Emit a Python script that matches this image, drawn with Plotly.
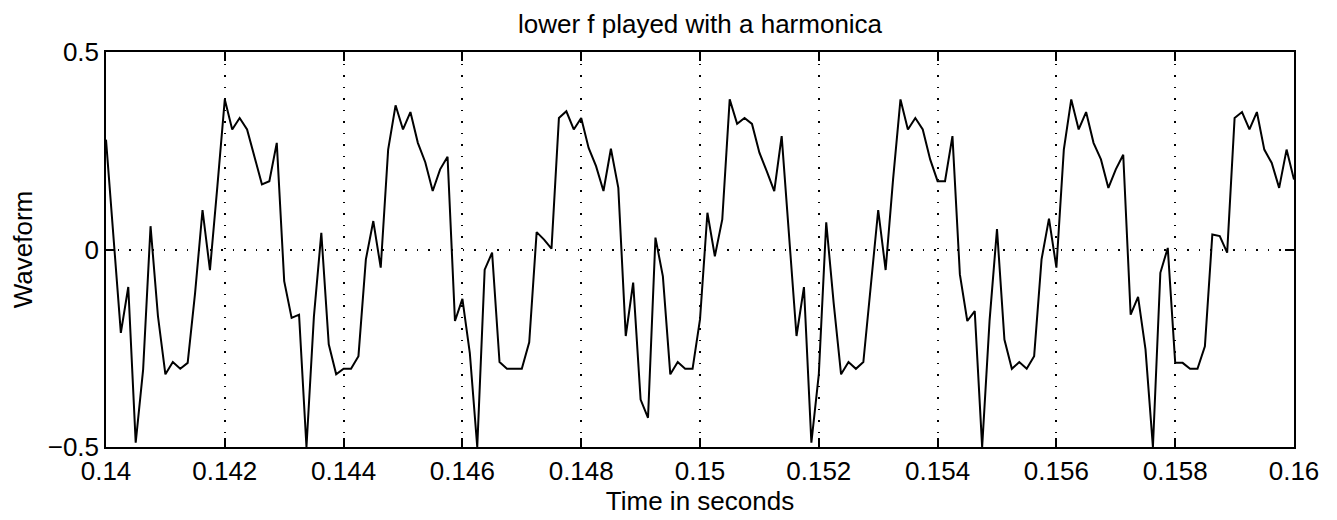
import plotly.graph_objects as go

t_start = 0.14
sample_period = 0.000125  # 8 kHz sampling

waveform = [
    0.278, 0.034, -0.211, -0.095, -0.489, -0.304, 0.059, -0.169, -0.316, -0.285,
    -0.302, -0.287, -0.11, 0.10, -0.052, 0.16, 0.38, 0.304, 0.333, 0.304,
    0.236, 0.165, 0.173, 0.27, -0.08, -0.173, -0.165, -0.5, -0.17, 0.042,
    -0.24, -0.316, -0.302, -0.302, -0.27, -0.025, 0.072, -0.046, 0.253, 0.365,
    0.304, 0.348, 0.27, 0.221, 0.148, 0.203, 0.235, -0.181, -0.125, -0.262,
    -0.5, -0.051, -0.008, -0.285, -0.302, -0.302, -0.302, -0.235, 0.044, 0.025,
    0.002, 0.333, 0.35, 0.304, 0.333, 0.257, 0.211, 0.148, 0.255, 0.156,
    -0.219, -0.084, -0.38, -0.426, 0.03, -0.068, -0.316, -0.285, -0.302, -0.302,
    -0.177, 0.093, -0.017, 0.076, 0.38, 0.318, 0.333, 0.318, 0.245, 0.198,
    0.148, 0.287, 0.034, -0.219, -0.095, -0.489, -0.316, 0.069, -0.135, -0.316,
    -0.285, -0.302, -0.285, -0.1, 0.10, -0.052, 0.177, 0.38, 0.304, 0.333,
    0.304, 0.228, 0.173, 0.173, 0.287, -0.063, -0.181, -0.156, -0.5, -0.18,
    0.052, -0.228, -0.302, -0.285, -0.302, -0.27, -0.025, 0.078, -0.046, 0.253,
    0.38, 0.304, 0.348, 0.27, 0.228, 0.156, 0.203, 0.24, -0.165, -0.12,
    -0.253, -0.5, -0.059, 0.004, -0.287, -0.287, -0.302, -0.302, -0.245, 0.038,
    0.034, -0.008, 0.333, 0.348, 0.304, 0.348, 0.253, 0.219, 0.156, 0.253,
    0.177,
]
time = [t_start + i * sample_period for i in range(len(waveform))]

x_ticks = [0.14, 0.142, 0.144, 0.146, 0.148, 0.15, 0.152, 0.154, 0.156, 0.158, 0.16]
x_tick_labels = ["0.14", "0.142", "0.144", "0.146", "0.148", "0.15", "0.152",
                 "0.154", "0.156", "0.158", "0.16"]
y_ticks = [-0.5, 0, 0.5]
y_tick_labels = ["\u22120.5", "0", "0.5"]

font_family = "Liberation Sans, Arial, sans-serif"
FS = 26

fig = go.Figure()
fig.add_trace(go.Scatter(x=time, y=waveform, mode="lines",
                         line=dict(color="black", width=2),
                         showlegend=False, hoverinfo="x+y"))

fig.update_layout(
    width=1337, height=520,
    margin=dict(l=95, r=51, t=44, b=81),
    paper_bgcolor="white", plot_bgcolor="white",
    font=dict(family=font_family, color="black", size=FS),
    title=dict(text="lower f played with a harmonica", x=(700 - 8) / 1337,
               xanchor="center", y=1 - 16 / 520, yanchor="middle",
               font=dict(size=FS)),
)
common = dict(
    showline=True, linecolor="black", linewidth=1.5, mirror="ticks",
    ticks="inside", ticklen=9, tickwidth=1.5, tickcolor="black",
    showgrid=True, gridcolor="black", gridwidth=1.5, griddash="1.5px,10px",
    zeroline=False, tickfont=dict(size=FS),
)
fig.update_xaxes(
    range=[0.14, 0.16], tickvals=x_ticks, ticktext=x_tick_labels,
    title=dict(text="Time in seconds", font=dict(size=FS), standoff=0),
    **common,
)
fig.update_yaxes(
    range=[-0.5, 0.5], tickvals=y_ticks, ticktext=y_tick_labels,
    title=dict(text="Waveform", font=dict(size=FS), standoff=10),
    **common,
)

fig.write_html("out.html")
